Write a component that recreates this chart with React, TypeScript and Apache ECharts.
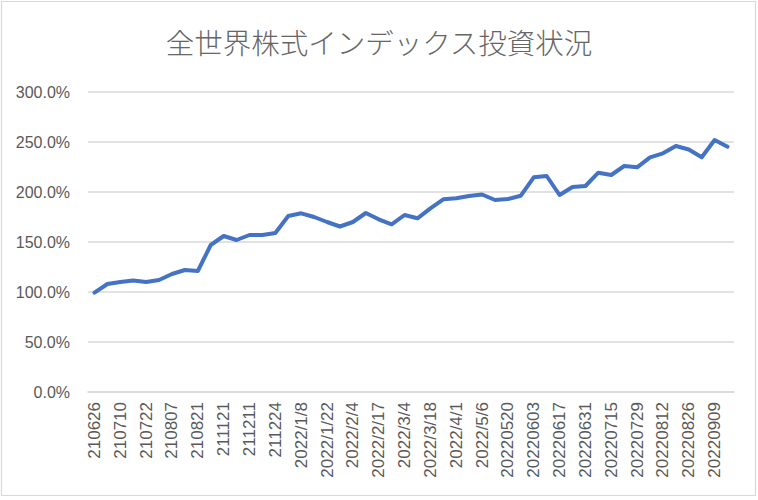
import React, { useEffect, useRef } from "react";
import * as echarts from "echarts";

const categories: string[] = [
  "210626", "210703", "210710", "210716", "210722", "210730", "210807", "210814",
  "210821", "211114", "211121", "211204", "211211", "211218", "211224", "2022/1/1",
  "2022/1/8", "2022/1/15", "2022/1/22", "2022/1/29", "2022/2/4", "2022/2/11",
  "2022/2/17", "2022/2/25", "2022/3/4", "2022/3/11", "2022/3/18", "2022/3/25",
  "2022/4/1", "2022/4/22", "2022/5/6", "20220513", "20220520", "20220527",
  "20220603", "20220610", "20220617", "20220624", "20220631", "20220708",
  "20220715", "20220722", "20220729", "20220805", "20220812", "20220819",
  "20220826", "20220902", "20220909", "20220916",
];

// ratio values in percent
const values: number[] = [
  99.3, 108, 110, 111.5, 110, 112, 118, 122, 121, 147,
  156, 152, 157, 157, 159, 176, 178.7, 175, 170, 165.5,
  170, 179, 172.7, 167.7, 177, 173.7, 183.7, 192.7, 193.7, 196,
  197.5, 192, 193, 196.3, 214.7, 216, 197, 205, 206, 219.3,
  217, 226, 224.7, 234.7, 238.7, 246, 242.5, 234.7, 252, 245.3,
];

const yTicks = { min: 0, max: 300, interval: 50 };

const title = "全世界株式インデックス投資状況";

export default function App() {
  const ref = useRef<HTMLDivElement>(null);

  useEffect(() => {
    if (!ref.current) return;
    const chart = echarts.init(ref.current, undefined, { renderer: "svg" });
    const textColor = "#595959";
    const font = "'Liberation Sans', Arial, sans-serif";
    chart.setOption({
      animation: false,
      backgroundColor: "#ffffff",
      title: {
        text: title,
        left: "center",
        top: 22,
        textStyle: {
          color: "#666666",
          fontSize: 28.5,
          fontWeight: 300,
          fontFamily: "'Noto Sans CJK JP', sans-serif",
        },
      },
      graphic: [
        {
          type: "rect",
          shape: { x: 1.5, y: 1.5, width: 754, height: 494 },
          style: { fill: "none", stroke: "#d9d9d9", lineWidth: 1.2 },
          silent: true,
        },
      ],
      grid: { left: 88, right: 24, top: 92, bottom: 108, containLabel: false },
      xAxis: {
        type: "category",
        data: categories,
        boundaryGap: true,
        axisLine: { show: true, lineStyle: { color: "#d9d9d9", width: 1.5 } },
        axisTick: { show: false },
        axisLabel: {
          rotate: 90,
          interval: 1,
          margin: 10,
          color: textColor,
          fontSize: 17,
          fontFamily: font,
        },
      },
      yAxis: {
        type: "value",
        min: yTicks.min,
        max: yTicks.max,
        interval: yTicks.interval,
        axisLine: { show: false },
        axisTick: { show: false },
        splitLine: { lineStyle: { color: "#d9d9d9", width: 1.5 } },
        axisLabel: {
          margin: 18,
          color: textColor,
          fontSize: 16,
          fontFamily: font,
          formatter: (v: number) => v.toFixed(1) + "%",
        },
      },
      series: [
        {
          type: "line",
          data: values,
          symbol: "none",
          lineStyle: { color: "#4472C4", width: 4, cap: "round", join: "round" },
          itemStyle: { color: "#4472C4" },
        },
      ],
    });
    return () => chart.dispose();
  }, []);

  return (
    <div
      ref={ref}
      style={{ position: "fixed", left: 0, top: 0, width: 758, height: 500 }}
    />
  );
}
